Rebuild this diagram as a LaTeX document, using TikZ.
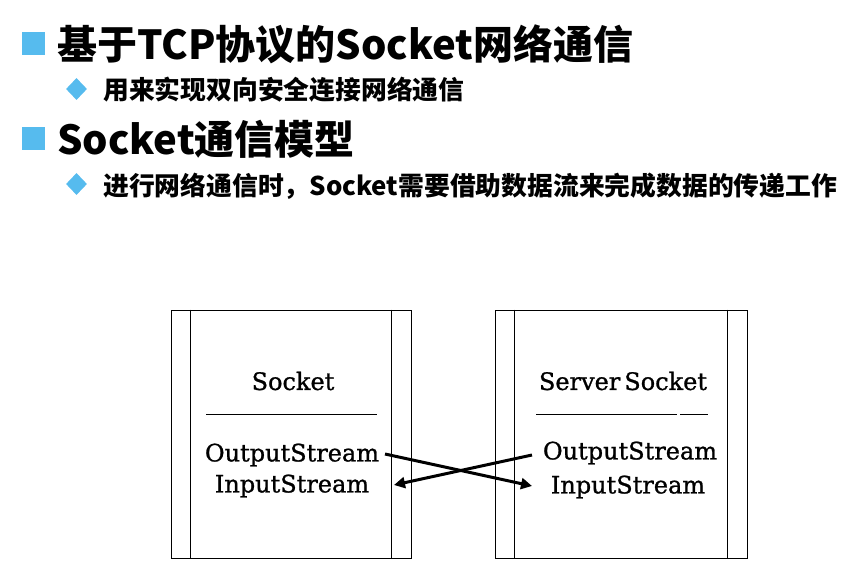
\documentclass[tikz,border=0pt]{standalone}
\usepackage{fontspec}
\newfontfamily\cjk{Noto Sans CJK SC}
\newfontface\boxfont{DejaVu Serif}[FakeBold=1]
\usetikzlibrary{arrows.meta,shapes.geometric}
\definecolor{bullet}{RGB}{86,187,238}
\tikzset{
  sq/.style={fill=bullet, minimum size=23pt, inner sep=0pt},
  dia/.style={fill=bullet, shape=diamond, minimum width=21pt, minimum height=22pt, inner sep=0pt},
  hone/.style={anchor=west, inner sep=0pt, font=\cjk\bfseries\fontsize{40}{44}\selectfont},
  htwo/.style={anchor=west, inner sep=0pt, font=\cjk\bfseries\fontsize{25.8}{28}\selectfont},
  sockbox/.style={draw, line width=0.8pt, minimum height=248pt, inner sep=0pt},
  thin/.style={line width=0.8pt},
  btxt/.style={inner sep=0pt, font=\boxfont\fontsize{24}{26}\selectfont},
  link/.style={line width=3pt, -{Triangle[length=11pt,width=11pt]}},
}
\begin{document}
\begin{tikzpicture}[x=1pt,y=-1pt]
\useasboundingbox (0,0) rectangle (865,572);
% header
\node[sq] (s1) at (33.5,43.5) {};
\node[hone] (t1) at (57,44) {基于TCP协议的Socket网络通信};
\node[dia] (d1) at (76.5,89) {};
\node[htwo] (t2) at (103,90) {用来实现双向安全连接网络通信};
\node[sq] (s2) at (33.5,138.5) {};
\node[hone] (t3) at (57,139) {Socket通信模型};
\node[dia] (d2) at (76.5,184) {};
\node[htwo] (t4) at (103,186) {进行网络通信时，Socket需要借助数据流来完成数据的传递工作};
% boxes
\node[sockbox, minimum width=240pt] (L) at (291,434) {};
\node[sockbox, minimum width=252pt] (R) at (621,434) {};
\draw[thin] ([xshift=20pt]L.north west) -- ([xshift=20pt]L.south west);
\draw[thin] ([xshift=-20pt]L.north east) -- ([xshift=-20pt]L.south east);
\draw[thin] ([xshift=20pt]R.north west) -- ([xshift=20pt]R.south west);
\draw[thin] ([xshift=-20pt]R.north east) -- ([xshift=-20pt]R.south east);
% texts
\node[btxt] (lt) at (293,381) {Socket};
\node[btxt] (rt) at (623,381) {Server\,Socket};
\coordinate (la) at (206,414);
\coordinate (lb) at (377,414);
\coordinate (ra) at (536,414);
\coordinate (rb) at (677,414);
\coordinate (rc) at (680,414);
\coordinate (rd) at (708,414);
\draw[thin] (la) -- (lb);
\draw[thin] (ra) -- (rb);
\draw[thin] (rc) -- (rd);
\node[btxt] (lo) at (292,455) {OutputStream};
\node[btxt] (li) at (292,486) {InputStream};
\node[btxt] (ro) at (630,453) {OutputStream};
\node[btxt] (ri) at (628,487) {InputStream};
% arrows
\coordinate (a1s) at (385,454);
\coordinate (a1e) at (532,486);
\coordinate (a2s) at (532,455);
\coordinate (a2e) at (394,485);
\draw[link] (a1s) -- (a1e);
\draw[link] (a2s) -- (a2e);
\end{tikzpicture}
\end{document}
